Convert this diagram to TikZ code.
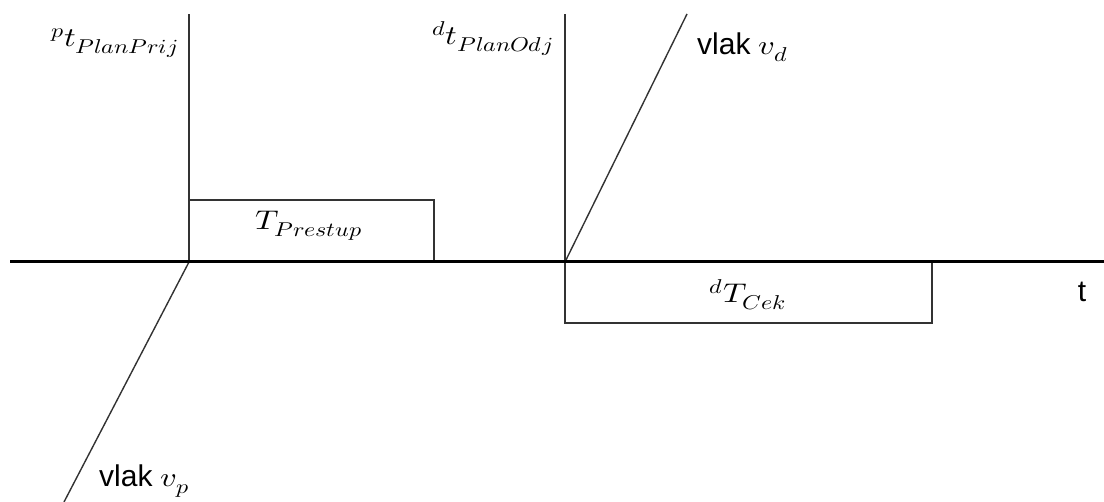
\documentclass[tikz,border=0pt]{standalone}
\usepackage{fontspec}
\usepackage{unicode-math}
\setsansfont{Liberation Sans}
\DeclareMathSizes{27}{27}{20}{15}
% math set slightly wider, as in the labels of the time diagram
\newcommand{\widemath}[1]{\scalebox{1.2}[1]{$#1$}}
\begin{document}
\begin{tikzpicture}[x=1pt,y=-1pt,
  thin line/.style={draw=black!80, line width=1.4pt},
  axis line/.style={draw=black, line width=3pt},
  lbl/.style={inner sep=0pt, font=\fontsize{27}{32}\selectfont},
  txt/.style={inner sep=0pt, font=\sffamily\fontsize{30}{36}\selectfont}]
\useasboundingbox (0,0) rectangle (1104,502);
% key points
\coordinate (ax0) at (10,262);
\coordinate (ax1) at (1104,262);
\coordinate (p) at (189,262);
\coordinate (ptop) at (189,14);
\coordinate (d) at (565,262);
\coordinate (dtop) at (565,14);
\coordinate (vdend) at (687,14);
\coordinate (vpend) at (64,502);
% planned arrival / departure verticals
\draw[thin line] (p) -- (ptop);
\draw[thin line] (d) -- (dtop);
% transfer and waiting intervals
\draw[thin line] (p) -- (189,200) -- (434,200) -- (434,262);
\draw[thin line] (d) -- (565,323) -- (932,323) -- (932,262);
% train paths
\draw[thin line] (d) -- (vdend);
\draw[thin line] (p) -- (vpend);
% time axis
\draw[axis line] (ax0) -- (ax1);
% labels
\node[lbl, anchor=base east] (lp) at (178,47) {\widemath{^{p}t_{PlanPrij}}};
\node[lbl, anchor=base east] (ld) at (553,45) {\widemath{^{d}t_{PlanOdj}}};
\node[lbl, anchor=base] (lpr) at (309,230) {\widemath{T_{Prestup}}};
\node[lbl, anchor=base] (lc) at (748,303) {\widemath{^{d}T_{Cek}}};
\node[txt, anchor=base west] (vd) at (697,55) {vlak {\fontsize{27}{32}\selectfont\widemath{v_{d}}}};
\node[txt, anchor=base west] (vp) at (99,487) {vlak {\fontsize{27}{32}\selectfont\widemath{v_{p}}}};
\node[txt, anchor=base] (t) at (1082,302) {t};
\end{tikzpicture}
\end{document}
